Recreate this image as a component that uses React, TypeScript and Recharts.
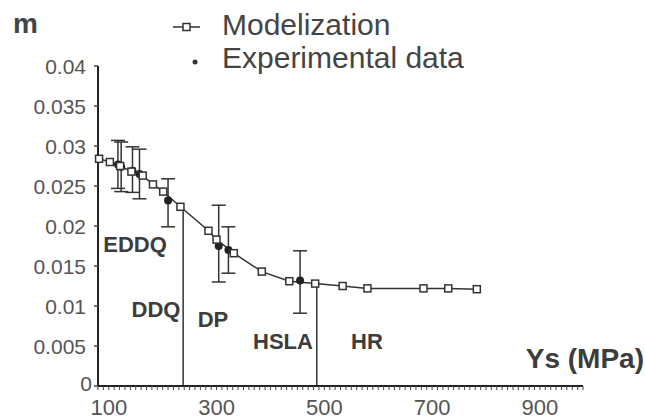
import { ComposedChart, Line, Scatter, ErrorBar, XAxis, YAxis, ReferenceLine } from "recharts";

const modelYs = [82, 102, 121, 142, 163, 182, 201, 233, 285, 300, 332, 384, 435, 483, 534, 580, 684, 730, 783];
const modelM = [0.0284, 0.028, 0.0275, 0.0268, 0.0263, 0.0252, 0.0243, 0.0224, 0.0194, 0.0183, 0.0166, 0.0143, 0.0131, 0.0128, 0.0125, 0.0122, 0.0122, 0.0122, 0.0121];

const expYs = [117, 123, 144, 157, 210, 304, 322, 455];
const expM = [0.0277, 0.0274, 0.0269, 0.0265, 0.0232, 0.0175, 0.017, 0.0132];
const expLow = [0.0247, 0.0243, 0.0242, 0.0234, 0.0199, 0.013, 0.0141, 0.0091];
const expHigh = [0.0307, 0.0305, 0.0299, 0.0296, 0.0259, 0.0226, 0.0199, 0.0169];

const boundaryYs = [238, 486];
const boundaryTop = [0.0224, 0.0128];

const yTicks = [0, 0.005, 0.01, 0.015, 0.02, 0.025, 0.03, 0.035, 0.04];
const xLabels = [100, 300, 500, 700, 900];
const xTicks = Array.from({ length: 91 }, (_, i) => 80 + i * 10);

const modelData = modelYs.map((ys, i) => ({ ys, m: modelM[i] }));
const expData = expYs.map((ys, i) => ({ ys, m: expM[i], err: [expM[i] - expLow[i], expHigh[i] - expM[i]] }));

const font = "'Liberation Sans', Arial, sans-serif";
const ink = "#333";

const SquareDot = (p: any) => (
  <rect key={p.index} x={p.cx - 3.5} y={p.cy - 3.5} width={7} height={7} fill="#fff" stroke={ink} strokeWidth={1.5} />
);

const RoundDot = (p: any) => <circle cx={p.cx} cy={p.cy} r={4} fill="#222" />;

const YTick = ({ x, y, payload }: any) => (
  <text x={payload.value === 0 ? x + 6 : x} y={y} dy={payload.value === 0 ? 5 : 7.5} textAnchor="end" fontSize={21} fill="#555" fontFamily={font}>
    {payload.value}
  </text>
);

const XTick = ({ x, y, payload }: any) =>
  xLabels.includes(payload.value) ? (
    <text x={x} y={y} dy={23} textAnchor="middle" fontSize={22} fill="#555" fontFamily={font}>
      {payload.value}
    </text>
  ) : (
    <g />
  );

export default function App() {
  return (
    <div style={{ position: "absolute", left: 0, top: 0, width: 645, height: 419, background: "#fff" }}>
      <ComposedChart width={645} height={419} margin={{ top: 66, right: 62, bottom: 0, left: 0 }}>
        <XAxis
          dataKey="ys"
          type="number"
          domain={[80, 980]}
          ticks={xTicks}
          interval={0}
          tick={<XTick />}
          tickSize={4}
          tickMargin={2}
          height={33}
          axisLine={{ stroke: "#222", strokeWidth: 2 }}
          tickLine={{ stroke: "#444", strokeWidth: 1 }}
        />
        <YAxis
          dataKey="m"
          type="number"
          domain={[0, 0.04]}
          ticks={yTicks}
          interval={0}
          tick={<YTick />}
          tickSize={4}
          tickMargin={8}
          width={98}
          axisLine={{ stroke: "#222", strokeWidth: 2 }}
          tickLine={{ stroke: "#444", strokeWidth: 1.5 }}
        />
        {boundaryYs.map((b, i) => (
          <ReferenceLine key={b} segment={[{ x: b, y: 0 }, { x: b, y: boundaryTop[i] }]} stroke={ink} strokeWidth={1.5} />
        ))}
        <Line data={modelData} dataKey="m" type="linear" stroke={ink} strokeWidth={1.5} dot={SquareDot} activeDot={false} isAnimationActive={false} />
        <Scatter data={expData} dataKey="m" shape={RoundDot} isAnimationActive={false}>
          <ErrorBar dataKey="err" direction="y" width={7} stroke={ink} strokeWidth={1.5} isAnimationActive={false} />
        </Scatter>
      </ComposedChart>
      <svg width={645} height={419} style={{ position: "absolute", left: 0, top: 0, pointerEvents: "none" }} fontFamily={font}>
        <text x={13} y={33} fontSize={28} fontWeight="bold" fill="#444">m</text>
        <line x1={173} y1={27} x2={200} y2={27} stroke={ink} strokeWidth={1.5} />
        <rect x={183} y={23.5} width={7} height={7} fill="#fff" stroke={ink} strokeWidth={1.5} />
        <text x={222} y={35} fontSize={30} fill="#444">Modelization</text>
        <circle cx={195} cy={62} r={2.5} fill="#333" />
        <text x={222} y={68} fontSize={30} fill="#444">Experimental data</text>
        <g fontSize={22} fontWeight="bold" fill="#3c3c3c" textAnchor="middle">
          <text x={135} y={252}>EDDQ</text>
          <text x={156} y={317}>DDQ</text>
          <text x={213} y={327}>DP</text>
          <text x={283} y={349}>HSLA</text>
          <text x={367} y={349}>HR</text>
        </g>
        <text x={644} y={368} fontSize={28} fontWeight="bold" fill="#3c3c3c" textAnchor="end">Ys (MPa)</text>
      </svg>
    </div>
  );
}
